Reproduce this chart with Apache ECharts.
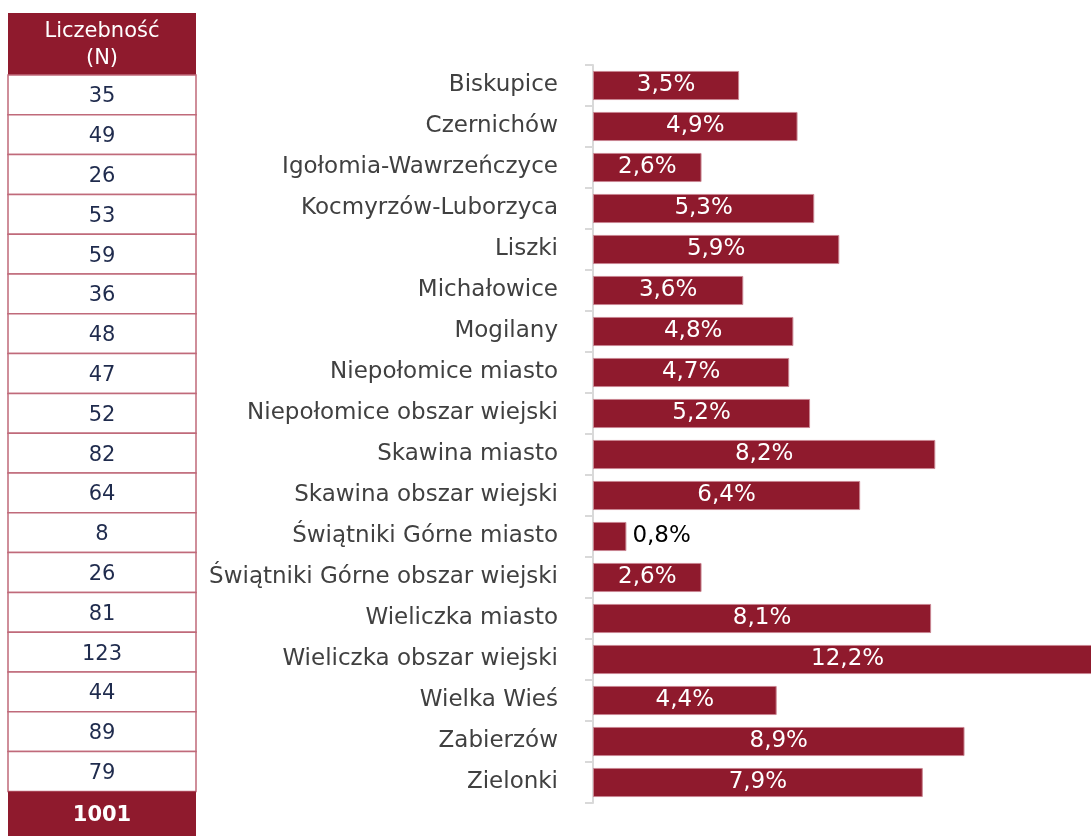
<!DOCTYPE html>
<html>
<head>
<meta charset="utf-8">
<script src="https://cdn.jsdelivr.net/npm/echarts@6/dist/echarts.min.js"></script>
<style>
	html, body { margin: 0; padding: 0; background: #fff; }
	#chart { width: 1091px; height: 836px; }
</style>
</head>
<body>
<div id="chart"></div>
<script>
// chart data
var categories = [
	'Biskupice',
	'Czernichów',
	'Igołomia-Wawrzeńczyce',
	'Kocmyrzów-Luborzyca',
	'Liszki',
	'Michałowice',
	'Mogilany',
	'Niepołomice miasto',
	'Niepołomice obszar wiejski',
	'Skawina miasto',
	'Skawina obszar wiejski',
	'Świątniki Górne miasto',
	'Świątniki Górne obszar wiejski',
	'Wieliczka miasto',
	'Wieliczka obszar wiejski',
	'Wielka Wieś',
	'Zabierzów',
	'Zielonki',
]
var percents = [3.5, 4.9, 2.6, 5.3, 5.9, 3.6, 4.8, 4.7, 5.2, 8.2, 6.4, 0.8, 2.6, 8.1, 12.2, 4.4, 8.9, 7.9]
var counts = [35, 49, 26, 53, 59, 36, 48, 47, 52, 82, 64, 8, 26, 81, 123, 44, 89, 79]
var countHeader = 'Liczebność\n(N)'
var countTotal = 1001

var RED = '#8f1a2d'
var FONT = 'DejaVu Sans'

var chart = echarts.init(document.getElementById('chart'))

// table on the left side, built from counts
var tableLeft = 8
var tableWidth = 188
var headerTop = 13
var headerHeight = 62
var rowHeight = 39.8
var graphics = []

graphics.push({
	type: 'rect',
	shape: { x: tableLeft, y: headerTop, width: tableWidth, height: headerHeight },
	style: { fill: RED },
})
graphics.push({
	type: 'text',
	x: tableLeft + tableWidth / 2,
	y: headerTop + headerHeight / 2 + 1,
	style: {
		text: countHeader,
		fill: '#fff',
		font: '21px ' + FONT,
		align: 'center',
		verticalAlign: 'middle',
		lineHeight: 27,
	},
})

counts.forEach(function (n, i) {
	var top = headerTop + headerHeight + i * rowHeight
	graphics.push({
		type: 'rect',
		shape: { x: tableLeft, y: top, width: tableWidth, height: rowHeight },
		style: { fill: '#fff', stroke: '#c06a7a', lineWidth: 1.5 },
	})
	graphics.push({
		type: 'text',
		x: tableLeft + tableWidth / 2,
		y: top + rowHeight / 2 + 2,
		style: {
			text: String(n),
			fill: '#1f2b4d',
			font: '21px ' + FONT,
			align: 'center',
			verticalAlign: 'middle',
		},
	})
})

var totalTop = headerTop + headerHeight + counts.length * rowHeight
graphics.push({
	type: 'rect',
	shape: { x: tableLeft, y: totalTop, width: tableWidth, height: 836 - totalTop },
	style: { fill: RED },
})
graphics.push({
	type: 'text',
	x: tableLeft + tableWidth / 2,
	y: totalTop + (836 - totalTop) / 2 + 2,
	style: {
		text: String(countTotal),
		fill: '#fff',
		font: 'bold 21px ' + FONT,
		align: 'center',
		verticalAlign: 'middle',
	},
})

var option = {
	animation: false,
	textStyle: { fontFamily: FONT },
	graphic: graphics,
	grid: {
		left: 593,
		right: 0,
		top: 65,
		bottom: 33,
		containLabel: false,
	},
	xAxis: {
		type: 'value',
		min: 0,
		max: 11.93, // the longest bar runs off the right edge, as in the original
		show: false,
	},
	yAxis: {
		type: 'category',
		inverse: true,
		data: categories,
		axisLine: { show: true, lineStyle: { color: '#d9d9d9', width: 2 } },
		axisTick: { show: true, length: 8, lineStyle: { color: '#d9d9d9', width: 2 } },
		axisLabel: {
			color: '#404040',
			fontSize: 23,
			fontFamily: FONT,
			margin: 35,
		},
	},
	series: [
		{
			type: 'bar',
			clip: false,
			data: percents.map(function (v) {
				var small = v < 1
				return {
					value: v,
					label: small
						? { position: 'right', color: '#000', distance: 6 }
						: { position: 'inside', color: '#fff' },
				}
			}),
			barCategoryGap: '29%',
			itemStyle: { color: RED, borderColor: '#c98591', borderWidth: 1 },
			label: {
				show: true,
				fontSize: 23,
				fontFamily: FONT,
				formatter: function (p) {
					return p.value.toFixed(1).replace('.', ',') + '%'
				},
			},
		},
	],
}

chart.setOption(option)
</script>
</body>
</html>
